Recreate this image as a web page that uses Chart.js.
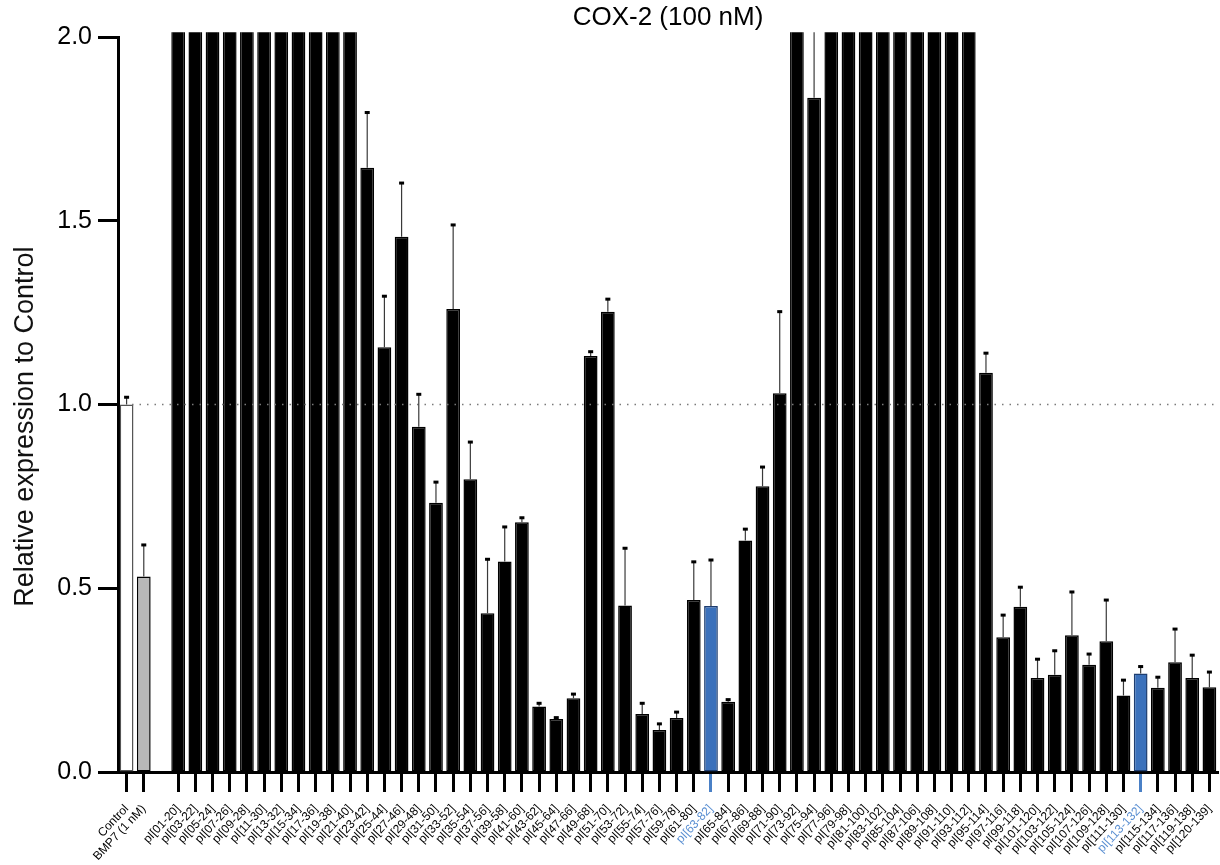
<!DOCTYPE html>
<html>
<head>
<meta charset="utf-8">
<title>COX-2 (100 nM)</title>
<script src="https://cdn.jsdelivr.net/npm/chart.js@4.4.1/dist/chart.umd.min.js"></script>
<style>
  html, body { margin: 0; padding: 0; background: #fff; }
  #wrap { width: 1220px; height: 865px; position: relative; }
</style>
</head>
<body>
<div id="wrap"><canvas id="coxChart"></canvas></div>
<script>
// categories ('' = gap between the controls and the peptides)
const categories = [
    'Control', 'BMP7 (1 nM)', '',
    'pI[01-20]', 'pI[03-22]', 'pI[05-24]', 'pI[07-26]', 'pI[09-28]', 'pI[11-30]', 'pI[13-32]', 'pI[15-34]',
    'pI[17-36]', 'pI[19-38]', 'pI[21-40]', 'pI[23-42]', 'pI[25-44]', 'pI[27-46]', 'pI[29-48]', 'pI[31-50]',
    'pI[33-52]', 'pI[35-54]', 'pI[37-56]', 'pI[39-58]', 'pI[41-60]', 'pI[43-62]', 'pI[45-64]', 'pI[47-66]',
    'pI[49-68]', 'pI[51-70]', 'pI[53-72]', 'pI[55-74]', 'pI[57-76]', 'pI[59-78]', 'pI[61-80]', 'pI[63-82]',
    'pI[65-84]', 'pI[67-86]', 'pI[69-88]', 'pI[71-90]', 'pI[73-92]', 'pI[75-94]', 'pI[77-96]', 'pI[79-98]',
    'pI[81-100]', 'pI[83-102]', 'pI[85-104]', 'pI[87-106]', 'pI[89-108]', 'pI[91-110]', 'pI[93-112]', 'pI[95-114]',
    'pI[97-116]', 'pI[99-118]', 'pI[101-120]', 'pI[103-122]', 'pI[105-124]', 'pI[107-126]', 'pI[109-128]', 'pI[111-130]',
    'pI[113-132]', 'pI[115-134]', 'pI[117-136]', 'pI[119-138]', 'pI[120-139]'
];

// mean relative expression (2.5 = off the top of the axis)
const values = [
    1.0, 0.532, null,
    2.5, 2.5, 2.5, 2.5, 2.5, 2.5, 2.5, 2.5,
    2.5, 2.5, 2.5, 1.645, 1.156, 1.457, 0.940, 0.733,
    1.260, 0.797, 0.432, 0.573, 0.680, 0.178, 0.144, 0.201,
    1.132, 1.253, 0.453, 0.158, 0.114, 0.147, 0.468, 0.452,
    0.191, 0.630, 0.778, 1.031, 2.5, 1.835, 2.5, 2.5,
    2.5, 2.5, 2.5, 2.5, 2.5, 2.5, 2.5, 1.087,
    0.367, 0.450, 0.256, 0.265, 0.372, 0.292, 0.356, 0.208,
    0.268, 0.229, 0.299, 0.256, 0.231
];

// upper error (SD)
const errors = [
    0.02, 0.086, null,
    0, 0, 0, 0, 0, 0, 0, 0,
    0, 0, 0, 0.150, 0.139, 0.146, 0.088, 0.056,
    0.229, 0.101, 0.147, 0.094, 0.012, 0.009, 0.004, 0.011,
    0.012, 0.034, 0.156, 0.029, 0.017, 0.016, 0.104, 0.125,
    0.006, 0.031, 0.052, 0.222, 0, 0.5, 0, 0,
    0, 0, 0, 0, 0, 0, 0, 0.053,
    0.060, 0.053, 0.051, 0.065, 0.118, 0.029, 0.112, 0.042,
    0.019, 0.029, 0.090, 0.062, 0.041
];

const yTicks = [0, 0.5, 1.0, 1.5, 2.0];
const referenceLevel = 1.0;
const highlighted = ['pI[63-82]', 'pI[113-132]'];
const yTitle = 'Relative expression to Control';

const FONT = "'Liberation Sans', Arial, Helvetica, sans-serif";
const BLUE = '#3b71bb';

function barFill(label) {
    if (label === 'Control') return '#ffffff';
    if (label === 'BMP7 (1 nM)') return '#b8b8b8';
    if (highlighted.includes(label)) return BLUE;
    return '#000000';
}

function barBorder(label) {
    if (label === 'Control') return '#555555';
    if (highlighted.includes(label)) return '#1d3d70';
    return '#000000';
}

function tickColor(ctx) {
    const label = categories[ctx.index];
    if (label === '') return 'rgba(0,0,0,0)';
    if (highlighted.includes(label)) return '#4a80c6';
    return '#000000';
}

// dotted line at the control level
const referenceLinePlugin = {
    id: 'referenceLine',
    afterDatasetsDraw(chart) {
        const ctx = chart.ctx;
        const area = chart.chartArea;
        const y = chart.scales.y.getPixelForValue(referenceLevel);
        ctx.save();
        ctx.strokeStyle = '#7a7a7a';
        ctx.lineWidth = 1.5;
        ctx.setLineDash([1.5, 6]);
        ctx.beginPath();
        ctx.moveTo(area.left + 14, y);
        ctx.lineTo(area.right, y);
        ctx.stroke();
        ctx.restore();
    }
};

// upward-only error bars with a small square cap
const errorBarPlugin = {
    id: 'errorBars',
    afterDatasetsDraw(chart) {
        const ctx = chart.ctx;
        const area = chart.chartArea;
        const yScale = chart.scales.y;
        const meta = chart.getDatasetMeta(0);
        ctx.save();
        ctx.beginPath();
        ctx.rect(area.left, area.top - 5, area.right - area.left, area.bottom - area.top + 5);
        ctx.clip();
        meta.data.forEach((bar, i) => {
            const v = values[i];
            const e = errors[i];
            if (v == null || !e) return;
            const y0 = yScale.getPixelForValue(v);
            const y1 = yScale.getPixelForValue(v + e);
            ctx.strokeStyle = '#3a3a3a';
            ctx.lineWidth = 1.2;
            ctx.beginPath();
            ctx.moveTo(bar.x, y0);
            ctx.lineTo(bar.x, y1);
            ctx.stroke();
            ctx.fillStyle = '#000';
            ctx.fillRect(bar.x - 2.5, y1 - 1.5, 5, 3);
        });
        ctx.restore();
    }
};

// y axis title, sits a little below the middle of the axis
const yTitlePlugin = {
    id: 'yTitle',
    afterDraw(chart) {
        const ctx = chart.ctx;
        const area = chart.chartArea;
        ctx.save();
        ctx.translate(26, (area.top + area.bottom) / 2 + 22);
        ctx.rotate(-Math.PI / 2);
        ctx.fillStyle = '#111';
        ctx.font = '27px ' + FONT;
        ctx.textAlign = 'center';
        ctx.textBaseline = 'middle';
        ctx.fillText(yTitle, 0, 0);
        ctx.restore();
    }
};

function renderCoxChart() {
    const ctx = document.getElementById('coxChart').getContext('2d');

    new Chart(ctx, {
        type: 'bar',
        data: {
            labels: categories,
            datasets: [{
                data: values,
                backgroundColor: categories.map(barFill),
                borderColor: categories.map(barBorder),
                borderWidth: 1.5,
                borderSkipped: false,
                barPercentage: 0.8,
                categoryPercentage: 1.0,
                clip: { left: 2, top: 5, right: 2, bottom: 2 }
            }]
        },
        options: {
            responsive: true,
            maintainAspectRatio: false,
            animation: false,
            layout: { padding: { left: 0, right: 2, top: 0, bottom: 0 } },
            plugins: {
                legend: { display: false },
                tooltip: { enabled: false },
                title: {
                    display: true,
                    text: 'COX-2 (100 nM)',
                    fullSize: false,
                    color: '#000',
                    font: { family: FONT, size: 26, weight: 'normal' },
                    padding: { top: 2, bottom: 4 }
                }
            },
            scales: {
                x: {
                    type: 'category',
                    grid: {
                        drawOnChartArea: false,
                        offset: false,
                        tickLength: 20,
                        tickWidth: 3,
                        tickColor: tickColor
                    },
                    border: { color: '#000', width: 3 },
                    ticks: {
                        autoSkip: false,
                        maxRotation: 47,
                        minRotation: 47,
                        padding: 10,
                        color: ctx => highlighted.includes(categories[ctx.index]) ? '#5a8fd2' : '#000',
                        font: { family: FONT, size: 12 }
                    },
                    afterFit: s => {
                        s.height = 93;
                        s.paddingLeft = 0;
                        s.paddingRight = 0;
                    }
                },
                y: {
                    min: 0,
                    max: 2,
                    afterBuildTicks: s => { s.ticks = yTicks.map(v => ({ value: v })); },
                    grid: {
                        drawOnChartArea: false,
                        tickLength: 20,
                        tickWidth: 3,
                        tickColor: '#000'
                    },
                    border: { color: '#000', width: 3 },
                    ticks: {
                        color: '#000',
                        padding: 6,
                        font: { family: FONT, size: 25 },
                        callback: v => Number(v).toFixed(1)
                    },
                    afterFit: s => { s.width = 118; }
                }
            }
        },
        plugins: [referenceLinePlugin, errorBarPlugin, yTitlePlugin]
    });
}

window.addEventListener('DOMContentLoaded', renderCoxChart);
</script>
</body>
</html>
